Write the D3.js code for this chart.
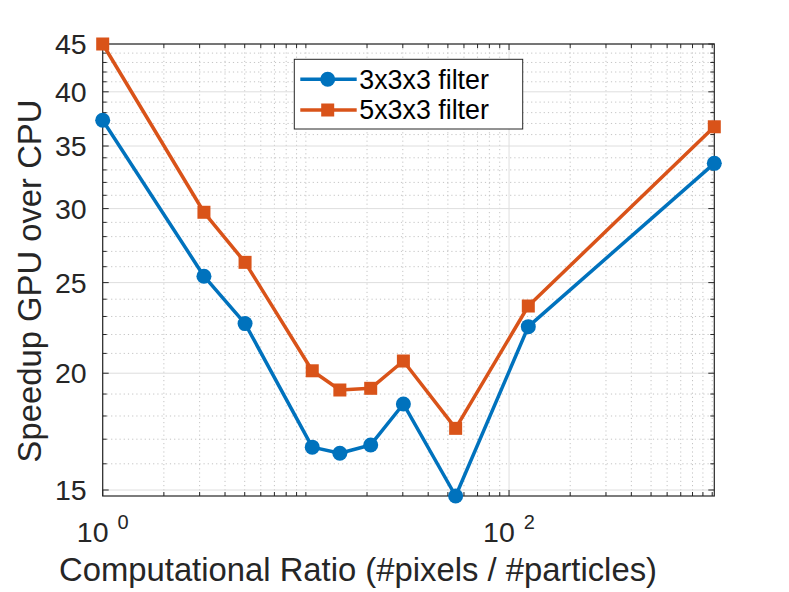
<!DOCTYPE html>
<html>
<head>
<meta charset="utf-8">
<script src="https://cdn.jsdelivr.net/npm/d3@7"></script>
<style>
  html, body { margin: 0; padding: 0; background: #fff; }
  svg { display: block; font-family: "Liberation Sans", Arial, Helvetica, sans-serif; }
</style>
</head>
<body>
<div id="chart"></div>
<script>
// computational ratio (#pixels / #particles)
const ratios = [1, 3.15, 5.02, 10.75, 14.7, 20.85, 30.2, 54.6, 124.4, 1024];
// speedup GPU over CPU per filter size
const speedup333 = [37.3, 25.4, 22.6, 16.67, 16.42, 16.76, 18.54, 14.78, 22.43, 33.54];
const speedup533 = [45.0, 29.73, 26.28, 20.12, 19.19, 19.27, 20.61, 17.46, 23.6, 36.7];
const seriesNames = ['3x3x3 filter', '5x3x3 filter'];
const xTickValues = [1, 100];
const yTickValues = [15, 20, 25, 30, 35, 40, 45];

const WIDTH = 789;
const HEIGHT = 592;
const margin = { top: 44, right: 74.7, bottom: 96, left: 102.7 };
const innerW = WIDTH - margin.left - margin.right;
const innerH = HEIGHT - margin.top - margin.bottom;

const AXIS_COLOR = '#262626';
const COLORS = ['#0072BD', '#D95319'];

const x = d3.scaleLog().domain([1, 1024]).range([0, innerW]);
const y = d3.scaleLog().domain([14.78, 45]).range([innerH, 0]);

// minor ticks: every integer step of each decade
const xMinor = [];
for (let p = 0; p <= 3; p++) {
  for (let k = 1; k <= 9; k++) {
    const v = k * Math.pow(10, p);
    if (v <= 1024 && !xTickValues.includes(v)) xMinor.push(v);
  }
}
const yMinor = d3.range(15, 46).filter((v) => !yTickValues.includes(v) && v >= 14.78);

const svg = d3.select('#chart')
  .append('svg')
  .attr('width', WIDTH)
  .attr('height', HEIGHT);

const g = svg.append('g')
  .attr('transform', `translate(${margin.left},${margin.top})`);

// grid
const grid = g.append('g').attr('class', 'grid');
grid.selectAll('line.xminor')
  .data(xMinor)
  .enter()
  .append('line')
  .attr('x1', (d) => x(d)).attr('x2', (d) => x(d))
  .attr('y1', 0).attr('y2', innerH)
  .attr('stroke', '#c4c4c4')
  .attr('stroke-width', 1)
  .attr('stroke-dasharray', '1.2,3');
grid.selectAll('line.yminor')
  .data(yMinor)
  .enter()
  .append('line')
  .attr('x1', 0).attr('x2', innerW)
  .attr('y1', (d) => y(d)).attr('y2', (d) => y(d))
  .attr('stroke', '#c4c4c4')
  .attr('stroke-width', 1)
  .attr('stroke-dasharray', '1.2,3');
grid.selectAll('line.xmajor')
  .data(xTickValues)
  .enter()
  .append('line')
  .attr('x1', (d) => x(d)).attr('x2', (d) => x(d))
  .attr('y1', 0).attr('y2', innerH)
  .attr('stroke', '#dedede')
  .attr('stroke-width', 1);
grid.selectAll('line.ymajor')
  .data(yTickValues)
  .enter()
  .append('line')
  .attr('x1', 0).attr('x2', innerW)
  .attr('y1', (d) => y(d)).attr('y2', (d) => y(d))
  .attr('stroke', '#dedede')
  .attr('stroke-width', 1);

// axes box with inward ticks on all four sides
const TICK = 6;
const MINOR_TICK = 4;
const ticks = g.append('g').attr('stroke', AXIS_COLOR).attr('stroke-width', 1);
const addXTicks = (vals, len) => {
  vals.forEach((v) => {
    ticks.append('line').attr('x1', x(v)).attr('x2', x(v)).attr('y1', innerH).attr('y2', innerH - len);
    ticks.append('line').attr('x1', x(v)).attr('x2', x(v)).attr('y1', 0).attr('y2', len);
  });
};
const addYTicks = (vals, len) => {
  vals.forEach((v) => {
    ticks.append('line').attr('y1', y(v)).attr('y2', y(v)).attr('x1', 0).attr('x2', len);
    ticks.append('line').attr('y1', y(v)).attr('y2', y(v)).attr('x1', innerW).attr('x2', innerW - len);
  });
};
addXTicks(xTickValues, TICK);
addXTicks(xMinor, MINOR_TICK);
addYTicks(yTickValues, TICK);
addYTicks(yMinor, MINOR_TICK);

g.append('rect')
  .attr('width', innerW)
  .attr('height', innerH)
  .attr('fill', 'none')
  .attr('stroke', AXIS_COLOR)
  .attr('stroke-width', 1.2);

// tick labels
g.selectAll('text.ytick')
  .data(yTickValues)
  .enter()
  .append('text')
  .attr('x', -16)
  .attr('y', (d) => y(d))
  .attr('dy', '0.35em')
  .attr('text-anchor', 'end')
  .attr('font-size', 28.5)
  .attr('fill', AXIS_COLOR)
  .text((d) => d);

const xt = g.selectAll('text.xtick')
  .data(xTickValues)
  .enter()
  .append('text')
  .attr('x', (d) => x(d))
  .attr('y', innerH + 46)
  .attr('text-anchor', 'middle')
  .attr('font-size', 28.5)
  .attr('fill', AXIS_COLOR);
xt.append('tspan').text('10');
xt.append('tspan')
  .attr('dx', 9)
  .attr('dy', -13)
  .attr('font-size', 20)
  .text((d) => Math.round(Math.log10(d)));

// axis labels
svg.append('text')
  .attr('x', 358)
  .attr('y', 581)
  .attr('text-anchor', 'middle')
  .attr('font-size', 32.8)
  .attr('fill', AXIS_COLOR)
  .text('Computational Ratio (#pixels / #particles)');

svg.append('text')
  .attr('transform', 'translate(41,281) rotate(-90)')
  .attr('text-anchor', 'middle')
  .attr('font-size', 32.8)
  .attr('fill', AXIS_COLOR)
  .text('Speedup GPU over CPU');

// series
const line = d3.line()
  .x((d) => x(d[0]))
  .y((d) => y(d[1]));

const series = [speedup333, speedup533].map((vals) => ratios.map((r, i) => [r, vals[i]]));

const plot = g.append('g');
series.forEach((pts, si) => {
  plot.append('path')
    .datum(pts)
    .attr('fill', 'none')
    .attr('stroke', COLORS[si])
    .attr('stroke-width', 3.5)
    .attr('stroke-linejoin', 'round')
    .attr('d', line);
});

const drawMarker = (sel, si) => {
  if (si === 0) {
    sel.append('circle').attr('r', 7.5).attr('fill', COLORS[0]);
  } else {
    sel.append('rect').attr('x', -6.5).attr('y', -6.5).attr('width', 13).attr('height', 13).attr('fill', COLORS[1]);
  }
};

series.forEach((pts, si) => {
  plot.selectAll(null)
    .data(pts)
    .enter()
    .append('g')
    .attr('transform', (d) => `translate(${x(d[0])},${y(d[1])})`)
    .each(function () { drawMarker(d3.select(this), si); });
});

// legend
const legend = svg.append('g').attr('transform', 'translate(294.3,59.3)');
legend.append('rect')
  .attr('width', 228.4)
  .attr('height', 69.7)
  .attr('fill', '#fff')
  .attr('stroke', AXIS_COLOR)
  .attr('stroke-width', 1);
const rows = [20, 50.7];
seriesNames.forEach((name, si) => {
  const row = legend.append('g').attr('transform', `translate(0,${rows[si]})`);
  row.append('line')
    .attr('x1', 6).attr('x2', 62.4)
    .attr('stroke', COLORS[si])
    .attr('stroke-width', 3.5);
  drawMarker(row.append('g').attr('transform', 'translate(33.4,0)'), si);
  row.append('text')
    .attr('x', 65)
    .attr('dy', '0.35em')
    .attr('font-size', 26.8)
    .attr('fill', '#000')
    .text(name);
});
</script>
</body>
</html>
